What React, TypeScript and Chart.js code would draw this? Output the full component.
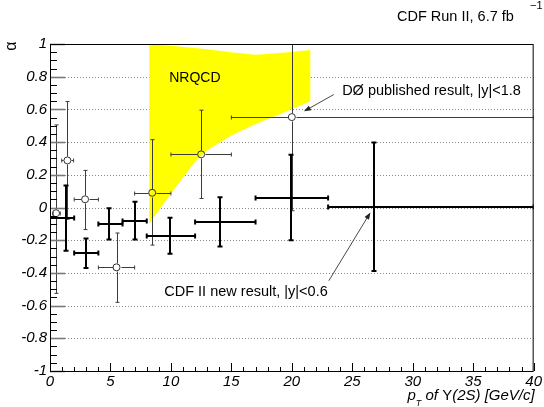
import React, { useEffect, useRef } from 'react';
import { Chart, registerables } from 'chart.js';

Chart.register(...registerables);

// CDF II, |y|<0.6 : mean pT in bin, bin edges, alpha and its uncertainty
const cdfPt = [1.3, 2.98, 4.85, 7.05, 9.92, 14.04, 19.9, 26.77];
const cdfPtLow = [0, 2, 4, 6, 8, 12, 17, 23];
const cdfPtHigh = [2, 4, 6, 8, 12, 17, 23, 40];
const cdfAlpha = [-0.065, -0.28, -0.1, -0.08, -0.173, -0.088, 0.061, 0.005];
const cdfErr = [0.2, 0.09, 0.095, 0.115, 0.11, 0.15, 0.262, 0.393];

// D0 published, |y|<1.8
const d0Pt = [0.5, 1.44, 2.9, 5.5, 8.45, 12.5, 20.0];
const d0PtLow = [0.25, 0.97, 2.0, 4.0, 7.0, 10.0, 15.0];
const d0PtHigh = [0.85, 1.95, 4.0, 7.0, 10.0, 15.0, 40.0];
const d0Alpha = [-0.035, 0.288, 0.05, -0.366, 0.09, 0.325, 0.553];
const d0ErrUp = [0.54, 0.36, 0.177, 0.21, 0.325, 0.27, 0.573];
const d0ErrDown = [0.49, 0.36, 0.185, 0.214, 0.32, 0.27, 0.573];

// NRQCD prediction band
const nrqcdPt = [8.2, 10, 12, 13, 15, 17, 19, 21.55];
const nrqcdUpper = [1.0, 0.99, 0.976, 0.968, 0.95, 0.934, 0.945, 0.963];
const nrqcdLower = [-0.1, 0.085, 0.28, 0.35, 0.44, 0.51, 0.57, 0.65];

// axis ticks
const xTicks = [0, 5, 10, 15, 20, 25, 30, 35, 40];
const yTicks = [-1, -0.8, -0.6, -0.4, -0.2, 0, 0.2, 0.4, 0.6, 0.8, 1];

const FAMILY = '"Liberation Sans", Arial, Helvetica, sans-serif';

type Bar = {
  x: number; xl: number; xh: number;
  y: number; yl: number; yh: number;
};

function drawBars(chart: any, bars: Bar[], lw: number, color: string, cap: number, gap: number) {
  const ctx: CanvasRenderingContext2D = chart.ctx;
  const xs = chart.scales.x;
  const ys = chart.scales.y;
  const snap = (v: number) => (lw % 2 === 1 ? Math.round(v) + 0.5 : Math.round(v));
  ctx.save();
  ctx.lineWidth = lw;
  ctx.strokeStyle = color;
  ctx.lineCap = 'butt';
  for (const b of bars) {
    const px = snap(xs.getPixelForValue(b.x));
    const py = snap(ys.getPixelForValue(b.y));
    const pxl = xs.getPixelForValue(b.xl);
    const pxh = xs.getPixelForValue(b.xh);
    const pyl = ys.getPixelForValue(b.yl);
    const pyh = ys.getPixelForValue(b.yh);
    ctx.beginPath();
    // horizontal
    ctx.moveTo(pxl, py); ctx.lineTo(px - gap, py);
    ctx.moveTo(px + gap, py); ctx.lineTo(pxh, py);
    // vertical
    ctx.moveTo(px, pyh); ctx.lineTo(px, py - gap);
    ctx.moveTo(px, py + gap); ctx.lineTo(px, pyl);
    // end caps
    ctx.moveTo(pxl, py - cap); ctx.lineTo(pxl, py + cap);
    ctx.moveTo(pxh, py - cap); ctx.lineTo(pxh, py + cap);
    ctx.moveTo(px - cap, pyh); ctx.lineTo(px + cap, pyh);
    ctx.moveTo(px - cap, pyl); ctx.lineTo(px + cap, pyl);
    ctx.stroke();
  }
  ctx.restore();
}

function arrow(ctx: CanvasRenderingContext2D, x1: number, y1: number, x2: number, y2: number) {
  const ang = Math.atan2(y2 - y1, x2 - x1);
  const hl = 7;
  const hw = 2.6;
  ctx.save();
  ctx.strokeStyle = '#333';
  ctx.fillStyle = '#222';
  ctx.lineWidth = 0.9;
  ctx.beginPath();
  ctx.moveTo(x1, y1);
  ctx.lineTo(x2 - Math.cos(ang) * hl * 0.6, y2 - Math.sin(ang) * hl * 0.6);
  ctx.stroke();
  ctx.beginPath();
  ctx.moveTo(x2, y2);
  ctx.lineTo(x2 - Math.cos(ang) * hl - Math.sin(ang) * hw, y2 - Math.sin(ang) * hl + Math.cos(ang) * hw);
  ctx.lineTo(x2 - Math.cos(ang) * hl + Math.sin(ang) * hw, y2 - Math.sin(ang) * hl - Math.cos(ang) * hw);
  ctx.closePath();
  ctx.fill();
  ctx.restore();
}

const decorations = {
  id: 'decorations',
  beforeDatasetsDraw(chart: any) {
    const { ctx, chartArea: a } = chart;
    const ys = chart.scales.y;
    ctx.save();
    ctx.strokeStyle = '#8a8a8a';
    ctx.lineWidth = 1;
    ctx.setLineDash([1, 2]);
    for (const v of yTicks) {
      if (Math.abs(v) >= 1) continue;
      const y = Math.round(ys.getPixelForValue(v)) + 0.5;
      ctx.beginPath();
      ctx.moveTo(a.left, y);
      ctx.lineTo(a.right, y);
      ctx.stroke();
    }
    ctx.restore();
  },
  afterDatasetDraw(chart: any, args: any) {
    if (args.index !== 1) return;
    const ctx: CanvasRenderingContext2D = chart.ctx;
    const a = chart.chartArea;
    ctx.save();
    ctx.beginPath();
    ctx.rect(a.left, a.top, a.right - a.left, a.bottom - a.top);
    ctx.clip();
    const d0Bars: Bar[] = d0Pt.map((x, i) => ({
      x, xl: d0PtLow[i], xh: d0PtHigh[i],
      y: d0Alpha[i], yl: d0Alpha[i] - d0ErrDown[i], yh: d0Alpha[i] + d0ErrUp[i],
    }));
    const cdfBars: Bar[] = cdfPt.map((x, i) => ({
      x, xl: cdfPtLow[i], xh: cdfPtHigh[i],
      y: cdfAlpha[i], yl: cdfAlpha[i] - cdfErr[i], yh: cdfAlpha[i] + cdfErr[i],
    }));
    drawBars(chart, d0Bars, 1, '#3c3c3c', 2, 4);
    drawBars(chart, cdfBars, 2, '#000', 2.5, 0);
    ctx.restore();
  },
  afterDraw(chart: any) {
    const ctx: CanvasRenderingContext2D = chart.ctx;
    const a = chart.chartArea;
    const xs = chart.scales.x;
    const ys = chart.scales.y;
    ctx.save();

    // tick marks inside the frame
    ctx.lineWidth = 1;
    ctx.strokeStyle = '#000';
    for (let k = 0; k <= 40; k++) {
      const x = Math.round(xs.getPixelForValue(k)) + 0.5;
      const len = k % 5 === 0 ? 8 : 4;
      ctx.beginPath();
      ctx.moveTo(x, a.bottom);
      ctx.lineTo(x, a.bottom - len);
      ctx.stroke();
    }
    for (let k = -20; k <= 20; k++) {
      const y = Math.round(ys.getPixelForValue(k * 0.05)) + 0.5;
      const major = k % 4 === 0;
      ctx.strokeStyle = major ? '#7a7a7a' : '#000';
      ctx.lineWidth = major ? 1.6 : 1;
      ctx.beginPath();
      ctx.moveTo(a.left, y);
      ctx.lineTo(a.left + (major ? 15 : 7), y);
      ctx.stroke();
    }

    // frame
    ctx.strokeStyle = '#000';
    ctx.lineWidth = 1;
    ctx.strokeRect(a.left + 0.5, a.top + 0.5, a.right - a.left - 1, a.bottom - a.top);

    // annotations
    ctx.fillStyle = '#000';
    ctx.textBaseline = 'alphabetic';
    ctx.textAlign = 'left';
    ctx.font = `14px ${FAMILY}`;
    ctx.fillText('NRQCD', xs.getPixelForValue(9.86), ys.getPixelForValue(0.768));
    ctx.font = `14.5px ${FAMILY}`;
    ctx.fillText('DØ published result, |y|<1.8', xs.getPixelForValue(24.16), ys.getPixelForValue(0.687));
    ctx.fillText('CDF II new result, |y|<0.6', xs.getPixelForValue(9.45), ys.getPixelForValue(-0.539));

    arrow(ctx, xs.getPixelForValue(23.47), ys.getPixelForValue(0.691), xs.getPixelForValue(21.0), ys.getPixelForValue(0.588));
    arrow(ctx, xs.getPixelForValue(23.06), ys.getPixelForValue(-0.448), xs.getPixelForValue(26.5), ys.getPixelForValue(-0.03));

    // header
    ctx.font = `14.5px ${FAMILY}`;
    ctx.fillText('CDF Run II, 6.7 fb', 397, 20.5);
    ctx.font = `11px ${FAMILY}`;
    ctx.fillText('\u22121', 530, 9);

    // y-axis title
    ctx.save();
    ctx.translate(16.3, 46);
    ctx.rotate(-Math.PI / 2);
    ctx.font = `16px ${FAMILY}`;
    ctx.textAlign = 'center';
    ctx.fillText('α', 0, 0);
    ctx.restore();

    // x-axis title, right aligned to the frame
    const parts: [string, string, number][] = [
      ['p', `italic 15px ${FAMILY}`, 0],
      ['T', `italic 9px ${FAMILY}`, 6],
      [' of ', `italic 15px ${FAMILY}`, 0],
      ['Υ', `15px ${FAMILY}`, 0],
      ['(2S) [GeV/c]', `italic 15px ${FAMILY}`, 0],
    ];
    let total = 0;
    for (const [t, f] of parts) { ctx.font = f; total += ctx.measureText(t).width; }
    let x = a.right + 1 - total;
    const base = 400;
    for (const [t, f, dy] of parts) {
      ctx.font = f;
      ctx.fillText(t, x, base + dy);
      x += ctx.measureText(t).width;
    }
    ctx.restore();
  },
};

export default function App() {
  const ref = useRef<HTMLCanvasElement>(null);

  useEffect(() => {
    const canvas = ref.current;
    if (!canvas) return;
    const tickFont = { family: FAMILY, size: 15, style: 'italic' as const };
    const chart = new Chart(canvas, {
      type: 'scatter',
      data: {
        datasets: [
          {
            label: 'DØ published result, |y|<1.8',
            data: d0Pt.map((x, i) => ({ x, y: d0Alpha[i] })),
            pointStyle: 'circle',
            pointRadius: 3.5,
            pointBorderWidth: 1,
            borderColor: '#333',
            backgroundColor: 'rgba(0,0,0,0)',
            order: 0,
          } as any,
          {
            label: 'CDF II new result, |y|<0.6',
            data: cdfPt.map((x, i) => ({ x, y: cdfAlpha[i] })),
            pointRadius: 0,
            order: 1,
          },
          {
            type: 'line',
            label: 'NRQCD upper',
            data: nrqcdPt.map((x, i) => ({ x, y: nrqcdUpper[i] })),
            showLine: true,
            borderWidth: 0,
            borderColor: 'rgba(0,0,0,0)',
            pointRadius: 0,
            tension: 0,
            fill: false,
            order: 2,
          } as any,
          {
            type: 'line',
            label: 'NRQCD',
            data: nrqcdPt.map((x, i) => ({ x, y: nrqcdLower[i] })),
            showLine: true,
            borderWidth: 0,
            borderColor: 'rgba(0,0,0,0)',
            backgroundColor: '#ffff00',
            pointRadius: 0,
            tension: 0,
            fill: '-1',
            order: 3,
          } as any,
        ],
      },
      options: {
        responsive: false,
        devicePixelRatio: 1,
        animation: false,
        events: [],
        layout: { padding: { top: 44, right: 9, left: 0, bottom: 0 } },
        plugins: {
          legend: { display: false },
          tooltip: { enabled: false },
        },
        scales: {
          x: {
            type: 'linear',
            min: 0,
            max: 40,
            grid: { display: false, drawTicks: false },
            border: { display: false },
            afterBuildTicks: (s: any) => { s.ticks = xTicks.map((v) => ({ value: v })); },
            afterFit: (s: any) => { s.height = 36; },
            ticks: {
              font: tickFont,
              color: '#000',
              padding: 2,
              maxRotation: 0,
              autoSkip: false,
              callback: (v: any) => String(v),
            },
          },
          y: {
            type: 'linear',
            min: -1,
            max: 1,
            grid: { display: false, drawTicks: false },
            border: { display: false },
            afterBuildTicks: (s: any) => { s.ticks = yTicks.map((v) => ({ value: v })); },
            afterFit: (s: any) => { s.width = 50; },
            ticks: {
              font: tickFont,
              color: '#000',
              padding: 3,
              autoSkip: false,
              callback: (v: any) => String(v),
            },
          },
        },
      },
      plugins: [decorations],
    });
    return () => chart.destroy();
  }, []);

  return (
    <div style={{ position: 'absolute', left: 0, top: 0, width: 544, height: 407, background: '#fff' }}>
      <canvas ref={ref} width={544} height={407} style={{ display: 'block', width: 544, height: 407 }} />
    </div>
  );
}
